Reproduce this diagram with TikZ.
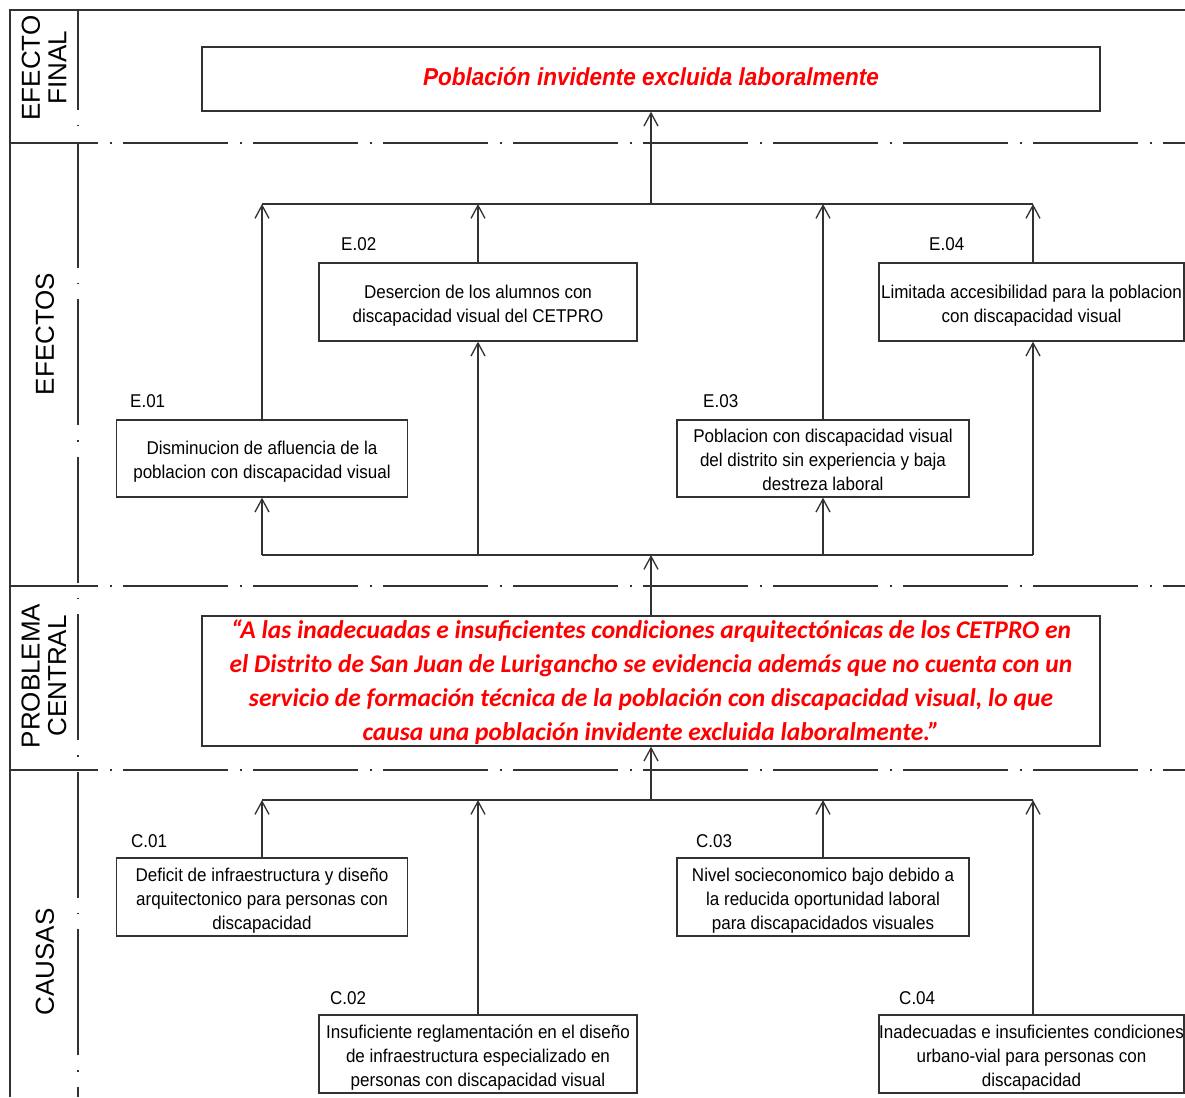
\documentclass[tikz,border=0pt]{standalone}
\usepackage{fontspec}
\setmainfont{Liberation Sans}
\newfontfamily\boxfont[FakeStretch=0.92]{Liberation Sans}
\newfontfamily\calib{Carlito}
\usetikzlibrary{arrows.meta}
\definecolor{ln}{RGB}{50,50,50}
\definecolor{rd}{RGB}{255,0,0}
\newcommand\bst{\rule[-4pt]{0pt}{24pt}}
\newcommand\cst{\rule[-6pt]{0pt}{28pt}}
\newcommand\tst{\rule[-7pt]{0pt}{28pt}}
\begin{document}
\begin{tikzpicture}[x=1pt,y=-1pt,
  box/.style={draw=ln, line width=1.3pt, fill=white, inner sep=0pt, align=center,
    font=\boxfont\fontsize{18.5}{24}\selectfont},
  lbl/.style={anchor=base west, inner sep=0pt, font=\boxfont\fontsize{18.5}{20}\selectfont},
  side/.style={rotate=90, align=center, inner sep=0pt, font=\fontsize{26}{26.5}\selectfont},
  conn/.style={draw=ln, line width=1.3pt},
  arr/.style={conn, -{Straight Barb[length=13pt,width=14pt]}},
  hsep/.style={draw=ln, line width=1.4pt, dash pattern=on 105pt off 12pt on 1.5pt off 11.5pt, dash phase=17pt},
  vsep/.style={draw=ln, line width=1.4pt, dash pattern=on 126pt off 15pt on 1.5pt off 15pt, dash phase=26pt}
]
\fill[white] (0,0) rectangle (1185,1097);
\useasboundingbox (0,0) rectangle (1185,1097);

% frame
\draw[conn, line width=1.4pt] (10,1097) -- (10,10) -- (1185,10);
\draw[vsep] (78,10) -- (78,1097);
\draw[hsep] (10,143) -- (1185,143);
\draw[hsep] (10,586) -- (1185,586);
\draw[hsep] (10,770) -- (1185,770);

% side labels
\node[side] (sEF) at (44,68) {EFECTO\\FINAL};
\node[side] (sE) at (45,334) {EFECTOS};
\node[side] (sPC) at (44,676) {PROBLEMA\\CENTRAL};
\node[side] (sC) at (45,962) {CAUSAS};

% top effect
\node[box, minimum width=898pt, minimum height=64pt, text=rd,
  font=\boxfont\bfseries\itshape\fontsize{24.5}{28}\selectfont] (top) at (651,79)
  {\tst Población invidente excluida laboralmente};

% effects
\node[box, minimum width=291pt, minimum height=77pt] (e01) at (262,458.5)
  {\bst Disminucion de afluencia de la\\\bst poblacion con discapacidad visual};
\node[box, minimum width=318pt, minimum height=78pt] (e02) at (478,302)
  {\bst Desercion de los alumnos con\\\bst discapacidad visual del CETPRO};
\node[box, minimum width=292pt, minimum height=77pt] (e03) at (823,458.5)
  {\bst Poblacion con discapacidad visual\\\bst del distrito sin experiencia y baja\\\bst destreza laboral};
\node[box, minimum width=305pt, minimum height=78pt] (e04) at (1031.5,302)
  {\bst Limitada accesibilidad para la poblacion\\\bst con discapacidad visual};

\node[lbl] (le01) at (130,407) {E.01};
\node[lbl] (le02) at (341,250) {E.02};
\node[lbl] (le03) at (703,407) {E.03};
\node[lbl] (le04) at (929,250) {E.04};

% central problem
\node[box, minimum width=898pt, minimum height=130pt, text=rd,
  font=\calib\bfseries\itshape\fontsize{25.5}{34}\selectfont] (prob) at (651,681)
  {\cst “A las inadecuadas e insuficientes condiciones arquitectónicas de los CETPRO en\\
   \cst el Distrito de San Juan de Lurigancho se evidencia además que no cuenta con un\\
   \cst servicio de formación técnica de la población con discapacidad visual, lo que\\
   \cst causa una población invidente excluida laboralmente.”};

% causes
\node[box, minimum width=291pt, minimum height=78pt] (c01) at (262,897)
  {\bst Deficit de infraestructura y diseño\\\bst arquitectonico para personas con\\\bst discapacidad};
\node[box, minimum width=318pt, minimum height=78pt] (c02) at (478,1054)
  {\bst Insuficiente reglamentación en el diseño\\\bst de infraestructura especializado en\\\bst personas con discapacidad visual};
\node[box, minimum width=292pt, minimum height=78pt] (c03) at (823,897)
  {\bst Nivel socieconomico bajo debido a\\\bst la reducida oportunidad laboral\\\bst para discapacidados visuales};
\node[box, minimum width=305pt, minimum height=78pt] (c04) at (1031.5,1054)
  {\bst Inadecuadas e insuficientes condiciones\\\bst urbano-vial para personas con\\\bst discapacidad};

\node[lbl] (lc01) at (131,847) {C.01};
\node[lbl] (lc02) at (330,1004) {C.02};
\node[lbl] (lc03) at (696,847) {C.03};
\node[lbl] (lc04) at (899,1004) {C.04};

% bus coordinates
\coordinate (bT1) at (262,204); \coordinate (bT2) at (478,204);
\coordinate (bT3) at (823,204); \coordinate (bT4) at (1033,204);
\coordinate (bTc) at (651,204);
\coordinate (bM1) at (262,555); \coordinate (bM2) at (478,555);
\coordinate (bM3) at (823,555); \coordinate (bM4) at (1033,555);
\coordinate (bMc) at (651,555);
\coordinate (bC1) at (262,800); \coordinate (bC2) at (478,800);
\coordinate (bC3) at (823,800); \coordinate (bC4) at (1033,800);
\coordinate (bCc) at (651,800);

% top bus
\draw[conn] (bT1) -- (bT4);
\draw[arr] (bTc) -- (top.south);
\draw[arr] (e01.north) -- (bT1);
\draw[arr] (e02.north) -- (bT2);
\draw[arr] (e03.north) -- (bT3);
\draw[arr] (bT4 |- e04.north) -- (bT4);

% middle bus
\draw[conn] (bM1) -- (bM4);
\draw[arr] (prob.north) -- (bMc);
\draw[arr] (bM1) -- (e01.south);
\draw[arr] (bM2) -- (e02.south);
\draw[arr] (bM3) -- (e03.south);
\draw[arr] (bM4) -- (bM4 |- e04.south);

% causes bus
\draw[conn] (bC1) -- (bC4);
\draw[arr] (bCc) -- (prob.south);
\draw[arr] (c01.north) -- (bC1);
\draw[arr] (c02.north) -- (bC2);
\draw[arr] (c03.north) -- (bC3);
\draw[arr] (bC4 |- c04.north) -- (bC4);
\end{tikzpicture}
\end{document}
